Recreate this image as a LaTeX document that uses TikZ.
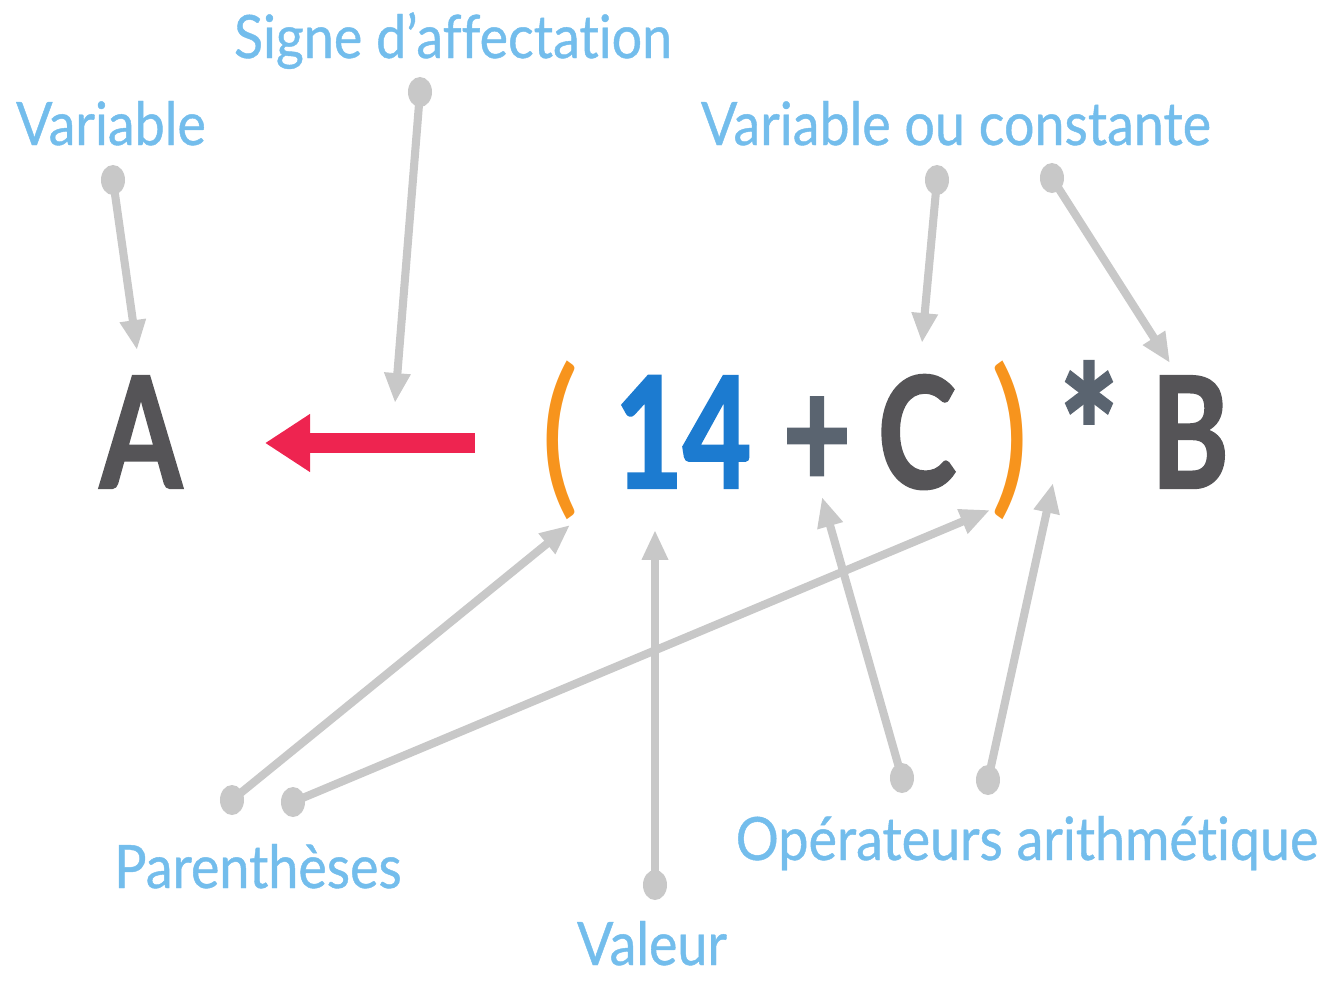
\documentclass[tikz,border=0pt]{standalone}
\usepackage{fontspec}
\setmainfont{Lato}
\newfontfamily\labfont[FakeStretch=0.9,FakeBold=0.7,Ligatures=NoCommon]{Lato}
\newfontfamily\bigfont[FakeStretch=0.76,FakeBold=1.6]{Lato}
\newfontfamily\parenfont[FakeStretch=0.85]{Lato}
\usetikzlibrary{arrows.meta,shapes.geometric}
\definecolor{lab}{RGB}{115,189,236}
\definecolor{conngray}{RGB}{200,200,200}
\definecolor{dark}{RGB}{85,84,87}
\definecolor{numblue}{RGB}{28,123,208}
\definecolor{opgray}{RGB}{90,100,112}
\definecolor{paren}{RGB}{247,148,29}
\definecolor{arrred}{RGB}{238,36,80}
\tikzset{
  lbl/.style={text=lab,font=\labfont\fontsize{17pt}{17pt}\selectfont,anchor=base,inner sep=0pt},
  big/.style={font=\bigfont\bfseries\fontsize{44pt}{44pt}\selectfont,anchor=base,inner sep=0pt},
  parennode/.style={text=paren,font=\parenfont\fontsize{49pt}{49pt}\selectfont,anchor=base,inner sep=0pt},
  dotnode/.style={ellipse,fill=conngray,minimum width=0.24cm,minimum height=0.3cm,inner sep=0pt},
  conn/.style={draw=conngray,line width=2.3pt,-{Triangle[width=7pt,length=8.5pt]}},
  assign/.style={draw=arrred,line width=5.7pt,-{Triangle[width=15.6pt,length=12.8pt]}}
}
\begin{document}
\begin{tikzpicture}[x=0.01cm,y=-0.01cm]
\useasboundingbox (0,0) rectangle (1329,984);
% labels
\node[lbl] (lsigne) at (453,58) {Signe d’affectation};
\node[lbl] (lvar) at (111,145) {Variable};
\node[lbl] (lvoc) at (956,145) {Variable ou constante};
\node[lbl] (lpar) at (258,888) {Parenthèses};
\node[lbl] (lval) at (652,965) {Valeur};
\node[lbl] (lop) at (1027,860) {Opérateurs arithmétique};
% expression
\node[big,text=dark] (A) at (141,488) {A};
\node[parennode] (lp) at (560,494) {(};
\node[big,text=numblue] (n14) at (683,488) {14};
\node[big,text=opgray] (plus) at (817,488) {+};
\node[big,text=dark] (C) at (917,488) {C};
\node[parennode] (rp) at (1010,494) {)};
\node[big,text=opgray,font=\bigfont\bfseries\fontsize{52pt}{52pt}\selectfont] (star) at (1089,500) {*};
\node[big,text=dark] (B) at (1190,488) {B};
% assignment arrow
\coordinate (as) at (475,443);
\coordinate (ae) at (265,443);
\draw[assign] (as) -- (ae);
% dots
\node[dotnode] (d1) at (113,180) {};
\node[dotnode] (d2) at (420,92) {};
\node[dotnode] (d3) at (937,180) {};
\node[dotnode] (d4) at (1052,178) {};
\node[dotnode] (d5) at (232,800) {};
\node[dotnode] (d6) at (293,802) {};
\node[dotnode] (d7) at (655,885) {};
\node[dotnode] (d8) at (902,778) {};
\node[dotnode] (d9) at (988,780) {};
% tips
\coordinate (t1) at (137,350);
\coordinate (t2) at (395,403);
\coordinate (t3) at (922,343);
\coordinate (t4) at (1170,363);
\coordinate (t5) at (570,525);
\coordinate (t6) at (990,510);
\coordinate (t7) at (655,530);
\coordinate (t8) at (822,497);
\coordinate (t9) at (1053,483);
\foreach \i in {1,...,9} \draw[conn] (d\i.center) -- (t\i);
\end{tikzpicture}
\end{document}
